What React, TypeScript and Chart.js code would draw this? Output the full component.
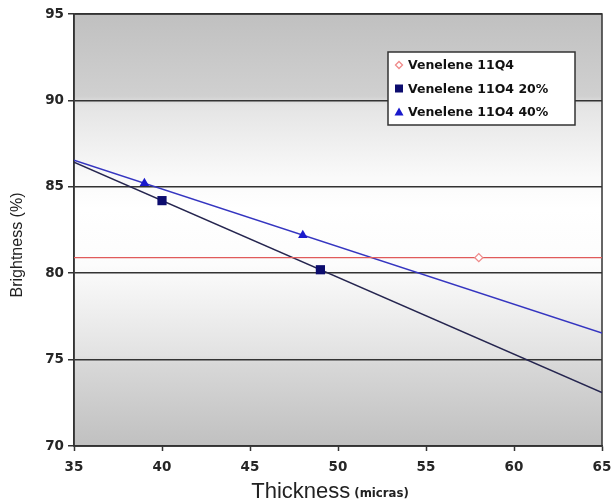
import React, { useEffect, useRef } from "react";
import { Chart, registerables } from "chart.js";

Chart.register(...registerables);

const seriesLabels = ["Venelene 11Q4", "Venelene 11O4 20%", "Venelene 11O4 40%"];
const thicknessQ4 = [58];
const brightnessQ4 = [80.9];
const thickness20 = [40, 49];
const brightness20 = [84.2, 80.2];
const thickness40 = [39, 48];
const brightness40 = [85.2, 82.2];
const xRange = [35, 65];
const yRange = [70, 95];
const tickStep = 5;
const xTitleMain = "Thickness";
const xTitleUnit = "(micras)";
const yTitle = "Brightness (%)";

const SANS = "'DejaVu Sans', Tahoma, sans-serif";
const COND = "'DejaVu Sans Condensed', 'DejaVu Sans', Tahoma, sans-serif";

function fit(xs: number[], ys: number[]) {
  const n = xs.length;
  const mx = xs.reduce((a, b) => a + b, 0) / n;
  const my = ys.reduce((a, b) => a + b, 0) / n;
  if (n < 2) return { m: 0, b: my };
  let num = 0, den = 0;
  for (let i = 0; i < n; i++) {
    num += (xs[i] - mx) * (ys[i] - my);
    den += (xs[i] - mx) * (xs[i] - mx);
  }
  const m = num / den;
  return { m, b: my - m * mx };
}

function trend(xs: number[], ys: number[]) {
  const { m, b } = fit(xs, ys);
  return xRange.map((x) => ({ x, y: m * x + b }));
}

function pts(xs: number[], ys: number[]) {
  return xs.map((x, i) => ({ x, y: ys[i] }));
}

const markerKinds = ["rectRot", "rect", "triangle"];

function drawMarker(ctx: CanvasRenderingContext2D, kind: string, x: number, y: number) {
  ctx.save();
  ctx.beginPath();
  if (kind === "rectRot") {
    const r = 3.5;
    ctx.moveTo(x, y - r);
    ctx.lineTo(x + r, y);
    ctx.lineTo(x, y + r);
    ctx.lineTo(x - r, y);
    ctx.closePath();
    ctx.fillStyle = "#ffffff";
    ctx.fill();
    ctx.strokeStyle = "#ef8a8a";
    ctx.lineWidth = 1.3;
    ctx.stroke();
  } else if (kind === "rect") {
    ctx.fillStyle = "#0c0c6e";
    ctx.fillRect(x - 4, y - 4, 8, 8);
  } else {
    ctx.moveTo(x, y - 4.5);
    ctx.lineTo(x + 4.5, y + 3.5);
    ctx.lineTo(x - 4.5, y + 3.5);
    ctx.closePath();
    ctx.fillStyle = "#1a1acc";
    ctx.fill();
  }
  ctx.restore();
}

const decorPlugin = {
  id: "decor",
  beforeDraw(chart: any) {
    const { ctx, chartArea: a } = chart;
    const g = ctx.createLinearGradient(0, a.top, 0, a.bottom);
    g.addColorStop(0, "#c0c0c0");
    g.addColorStop(0.19, "#d0d0d0");
    g.addColorStop(0.21, "#e4e4e4");
    g.addColorStop(0.38, "#fafafa");
    g.addColorStop(0.45, "#ffffff");
    g.addColorStop(0.58, "#fcfcfc");
    g.addColorStop(0.79, "#e2e2e2");
    g.addColorStop(0.81, "#d8d8d8");
    g.addColorStop(1, "#c0c0c0");
    ctx.save();
    ctx.fillStyle = g;
    ctx.fillRect(a.left, a.top, a.right - a.left, a.bottom - a.top);
    ctx.restore();
  },
  beforeDatasetsDraw(chart: any) {
    const { ctx, chartArea: a } = chart;
    ctx.save();
    ctx.strokeStyle = "#333333";
    ctx.lineWidth = 1.5;
    ctx.strokeRect(a.left, a.top, a.right - a.left, a.bottom - a.top);
    ctx.restore();
  },
  afterDraw(chart: any) {
    const { ctx } = chart;
    ctx.save();
    ctx.fillStyle = "#222222";
    ctx.font = "16px 'Liberation Sans', Arial, sans-serif";
    ctx.textAlign = "center";
    ctx.textBaseline = "middle";
    ctx.translate(18, 245);
    ctx.rotate(-Math.PI / 2);
    ctx.fillText(yTitle, 0, 0);
    ctx.restore();

    ctx.save();
    ctx.fillStyle = "#222222";
    ctx.textBaseline = "alphabetic";
    ctx.textAlign = "left";
    const f1 = "22px 'Liberation Sans', Arial, sans-serif";
    const f2 = "bold 13px " + COND;
    ctx.font = f1;
    const w1 = ctx.measureText(xTitleMain).width;
    ctx.font = f2;
    const w2 = ctx.measureText(xTitleUnit).width;
    const gap = 4;
    const total = w1 + gap + w2;
    const x0 = 330 - total / 2;
    ctx.font = f1;
    ctx.fillText(xTitleMain, x0, 498);
    ctx.font = f2;
    ctx.fillText(xTitleUnit, x0 + w1 + gap, 497);
    ctx.restore();

    ctx.save();
    const lx = 388, ly = 52, lw = 187, lh = 73;
    ctx.fillStyle = "#ffffff";
    ctx.fillRect(lx, ly, lw, lh);
    ctx.strokeStyle = "#333333";
    ctx.lineWidth = 1.5;
    ctx.strokeRect(lx, ly, lw, lh);
    ctx.font = "bold 12.5px " + SANS;
    ctx.fillStyle = "#111111";
    ctx.textBaseline = "middle";
    ctx.textAlign = "left";
    seriesLabels.forEach((label, i) => {
      const cy = 65 + i * 23.5;
      drawMarker(ctx, markerKinds[i], 399, cy);
      ctx.fillText(label, 408, cy + 1);
    });
    ctx.restore();
  },
};

export default function App() {
  const ref = useRef<HTMLCanvasElement | null>(null);
  useEffect(() => {
    if (!ref.current) return;
    const tickFont = { family: SANS, size: 13.5, weight: "bold" as const };
    const chart = new Chart(ref.current, {
      type: "scatter",
      data: {
        datasets: [
          {
            label: seriesLabels[0],
            data: pts(thicknessQ4, brightnessQ4),
            pointStyle: "rectRot",
            pointRadius: 4,
            pointBackgroundColor: "#ffffff",
            pointBorderColor: "#ef8a8a",
            pointBorderWidth: 1.3,
            showLine: false,
            order: 0,
          },
          {
            label: seriesLabels[1],
            data: pts(thickness20, brightness20),
            pointStyle: "rect",
            pointRadius: 6.5,
            pointBackgroundColor: "#0c0c6e",
            pointBorderColor: "#0c0c6e",
            pointBorderWidth: 0,
            showLine: false,
            order: 0,
          },
          {
            label: seriesLabels[2],
            data: pts(thickness40, brightness40),
            pointStyle: "triangle",
            pointRadius: 5.5,
            pointBackgroundColor: "#1a1acc",
            pointBorderColor: "#1a1acc",
            pointBorderWidth: 0,
            showLine: false,
            order: 0,
          },
          {
            label: "trend Q4",
            data: trend(thicknessQ4, brightnessQ4),
            showLine: true,
            borderColor: "#e05a5a",
            borderWidth: 1.2,
            pointRadius: 0,
            order: 1,
          },
          {
            label: "trend 20",
            data: trend(thickness20, brightness20),
            showLine: true,
            borderColor: "#25254f",
            borderWidth: 1.5,
            pointRadius: 0,
            order: 1,
          },
          {
            label: "trend 40",
            data: trend(thickness40, brightness40),
            showLine: true,
            borderColor: "#3535c0",
            borderWidth: 1.5,
            pointRadius: 0,
            order: 1,
          },
        ],
      },
      options: {
        responsive: false,
        animation: false,
        layout: { padding: { top: 14, right: 9, left: 0, bottom: 0 } },
        plugins: {
          legend: { display: false },
          tooltip: { enabled: false },
        },
        scales: {
          x: {
            type: "linear",
            min: xRange[0],
            max: xRange[1],
            ticks: { stepSize: tickStep, font: tickFont, color: "#262626", padding: 8 },
            grid: { drawOnChartArea: false, drawTicks: true, tickLength: 5, tickColor: "#333333", tickWidth: 1.5 },
            border: { color: "#333333", width: 1.5 },
            afterFit: (s: any) => {
              s.height = 56;
              s.paddingLeft = 0;
              s.paddingRight = 0;
            },
          },
          y: {
            type: "linear",
            min: yRange[0],
            max: yRange[1],
            ticks: { stepSize: tickStep, font: tickFont, color: "#262626", padding: 4 },
            grid: { color: "#333333", lineWidth: 1.5, tickLength: 6, tickColor: "#333333", tickWidth: 1.5 },
            border: { color: "#333333", width: 1.5 },
            afterFit: (s: any) => {
              s.width = 74;
            },
          },
        },
      },
      plugins: [decorPlugin],
    } as any);
    return () => chart.destroy();
  }, []);
  return (
    <div style={{ position: "fixed", left: 0, top: 0, width: 611, height: 502, background: "#ffffff" }}>
      <canvas ref={ref} width={611} height={502} />
    </div>
  );
}
